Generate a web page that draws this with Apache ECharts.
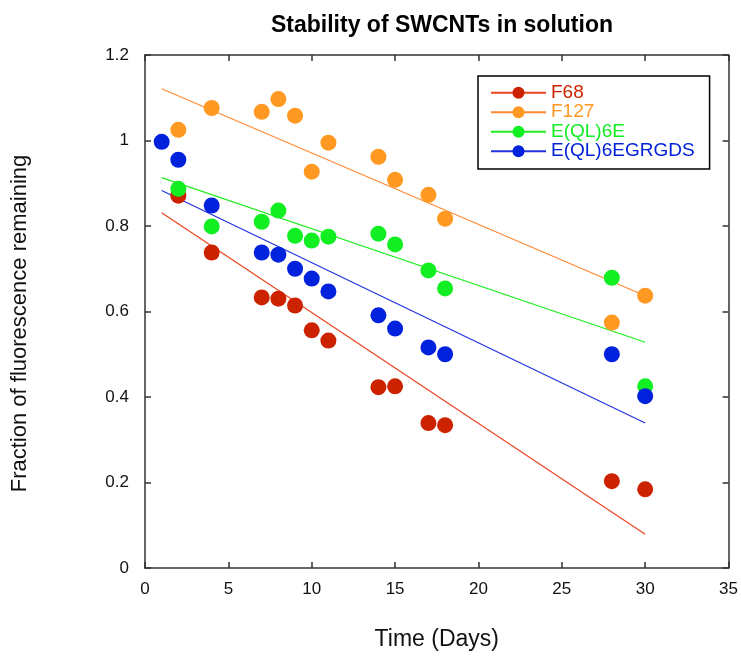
<!DOCTYPE html>
<html>
<head>
<meta charset="utf-8">
<script src="https://cdn.jsdelivr.net/npm/echarts@6/dist/echarts.min.js"></script>
<style>
  html, body { margin: 0; padding: 0; background: #fff; }
  #chart { width: 741px; height: 656px; }
</style>
</head>
<body>
<div id="chart"></div>
<script>
const seriesNames = ['F68', 'F127', 'E(QL)6E', 'E(QL)6EGRGDS'];
const dotColors = ['#cc2200', '#ff9922', '#11ee22', '#0022dd'];
const lineColors = ['#ee4422', '#ff8833', '#22ee22', '#2233dd'];

const days = [2, 4, 7, 8, 9, 10, 11, 14, 15, 17, 18, 28, 30];
const daysBlue = [1, 2, 4, 7, 8, 9, 10, 11, 14, 15, 17, 18, 28, 30];

const f68 = [0.871, 0.738, 0.633, 0.630, 0.614, 0.556, 0.532, 0.423, 0.425, 0.339, 0.334, 0.203, 0.184];
const f127 = [1.025, 1.076, 1.067, 1.097, 1.058, 0.927, 0.995, 0.962, 0.908, 0.873, 0.817, 0.574, 0.637];
const eql6e = [0.887, 0.799, 0.810, 0.836, 0.777, 0.766, 0.775, 0.782, 0.757, 0.696, 0.654, 0.679, 0.425];
const eql6egrgds = [0.997, 0.955, 0.848, 0.738, 0.733, 0.700, 0.677, 0.647, 0.591, 0.560, 0.516, 0.500, 0.500, 0.402];

// linear fit lines, read at day 1 and day 30
const fitDays = [1, 30];
const fitF68 = [0.831, 0.079];
const fitF127 = [1.121, 0.637];
const fitEql6e = [0.913, 0.528];
const fitEql6egrgds = [0.883, 0.339];

const xTicks = { min: 0, max: 35, interval: 5 };
const yTicks = { min: 0, max: 1.2, interval: 0.2 };

const pointSets = [
  [days, f68],
  [days, f127],
  [days, eql6e],
  [daysBlue, eql6egrgds]
];
const fitSets = [fitF68, fitF127, fitEql6e, fitEql6egrgds];

const pairs = (xs, ys) => xs.map((x, i) => [x, ys[i]]);

const chart = echarts.init(document.getElementById('chart'));

const font = 'Liberation Sans, Arial, sans-serif';
const axisLine = { show: true, onZero: false, lineStyle: { color: '#333', width: 1.5 } };
const tick = { show: true, inside: true, length: 6, lineStyle: { color: '#333', width: 1.5 } };

const series = [];
seriesNames.forEach((name, i) => {
  series.push({
    name: name,
    type: 'line',
    data: pairs(fitDays, fitSets[i]),
    symbol: 'circle',
    symbolSize: 15,
    showSymbol: false,
    itemStyle: { color: dotColors[i] },
    lineStyle: { color: lineColors[i], width: 1.2 },
    silent: true,
    z: 2
  });
});
seriesNames.forEach((name, i) => {
  series.push({
    name: name,
    type: 'scatter',
    data: pairs(pointSets[i][0], pointSets[i][1]),
    symbol: 'circle',
    symbolSize: 16,
    itemStyle: { color: dotColors[i], opacity: 1 },
    z: 3
  });
});

const option = {
  backgroundColor: '#fff',
  animation: false,
  textStyle: { fontFamily: font },
  title: {
    text: 'Stability of SWCNTs in solution',
    left: 437,
    top: 9,
    textAlign: 'center',
    textStyle: { fontSize: 23, fontWeight: 'bold', color: '#000', fontFamily: font }
  },
  legend: {
    left: 478,
    top: 76,
    orient: 'vertical',
    padding: [7, 15, 8, 12],
    itemGap: 0,
    itemWidth: 55,
    itemHeight: 15,
    borderColor: '#000',
    borderWidth: 1.5,
    backgroundColor: '#fff',
    data: seriesNames.map((n, i) => ({
      name: n,
      textStyle: { color: dotColors[i] }
    })),
    textStyle: { fontSize: 19, lineHeight: 19.5, fontFamily: font }
  },
  grid: { left: 145, right: 9, top: 55, bottom: 85 },
  xAxis: [
    {
      type: 'value',
      min: xTicks.min, max: xTicks.max, interval: xTicks.interval,
      name: 'Time (Days)',
      nameLocation: 'middle',
      nameGap: 60,
      nameTextStyle: { fontSize: 23, color: '#111', fontFamily: font },
      axisLine: axisLine,
      axisTick: tick,
      axisLabel: { fontSize: 17, color: '#111', margin: 13 },
      splitLine: { show: false }
    },
    {
      type: 'value',
      position: 'top',
      min: xTicks.min, max: xTicks.max, interval: xTicks.interval,
      axisLine: axisLine,
      axisTick: tick,
      axisLabel: { show: false },
      splitLine: { show: false }
    }
  ],
  yAxis: [
    {
      type: 'value',
      min: yTicks.min, max: yTicks.max, interval: yTicks.interval,
      name: 'Fraction of fluorescence remaining',
      nameLocation: 'middle',
      nameGap: 114,
      nameTextStyle: { fontSize: 22, color: '#111', fontFamily: font, padding: [0, 24, 0, 0] },
      axisLine: axisLine,
      axisTick: tick,
      axisLabel: { fontSize: 17, color: '#111', margin: 16 },
      splitLine: { show: false }
    },
    {
      type: 'value',
      position: 'right',
      min: yTicks.min, max: yTicks.max, interval: yTicks.interval,
      axisLine: axisLine,
      axisTick: tick,
      axisLabel: { show: false },
      splitLine: { show: false }
    }
  ],
  series: series
};

chart.setOption(option);
</script>
</body>
</html>
